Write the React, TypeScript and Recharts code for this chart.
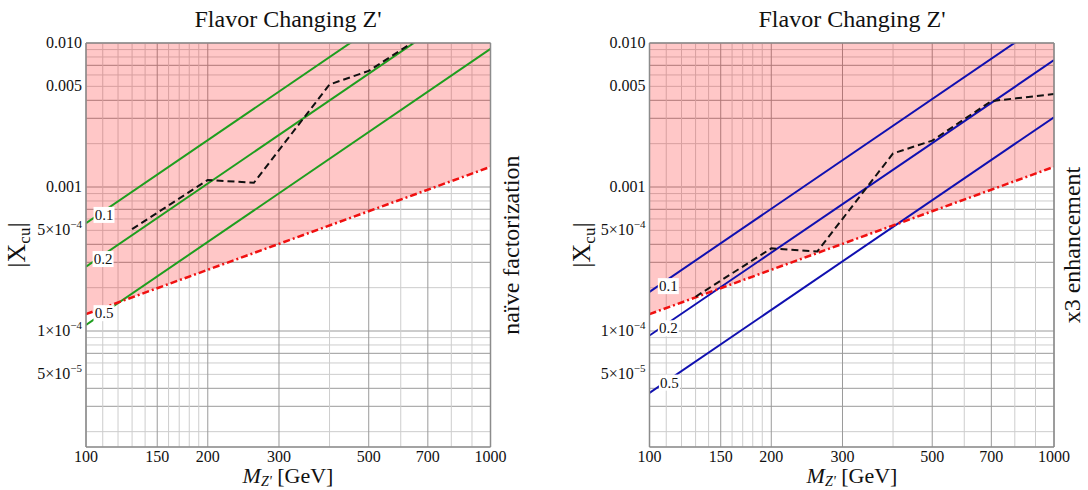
import React from 'react';
import {
  Area,
  ComposedChart,
  CartesianGrid,
  Line,
  ReferenceDot,
  ReferenceLine,
  XAxis,
  YAxis,
} from 'recharts';

// masses where the straight (log-log) bounds are given
const massEnds = [100, 1000];
// red dash-dot bound, same in both panels
const redBound = [1.31e-4, 1.38e-3];

// naive factorization: coupling lines 0.1 / 0.2 / 0.5
const naive01 = [5.6e-4, 0.0462];
const naive02 = [2.8e-4, 0.0231];
const naive05 = [1.1e-4, 9.1e-3];
// x3 enhancement
const enh01 = [1.87e-4, 0.0154];
const enh02 = [9.3e-5, 7.6e-3];
const enh05 = [3.72e-5, 3.05e-3];

// black dashed curve
const dashMass = [130, 200, 260, 400, 500, 700, 1000];
const naiveDash = [5.1e-4, 1.12e-3, 1.07e-3, 5.15e-3, 6.4e-3, 1.18e-2, 1.33e-2];
const enhDash = [1.73e-4, 3.75e-4, 3.57e-4, 1.71e-3, 2.1e-3, 3.95e-3, 4.42e-3];

// contour labels
const couplings = ['0.1', '0.2', '0.5'];
const naiveLabelMass = [110.8, 110.2, 110.8];
const naiveLabelX = [6.4e-4, 3.16e-4, 1.33e-4];
const enhLabelMass = [111.3, 111.3, 112];
const enhLabelX = [2.05e-4, 1.045e-4, 4.38e-5];

// axes
const xTickLabels = [100, 150, 200, 300, 500, 700, 1000];
const xGrid = [100, 110, 120, 130, 140, 150, 160, 170, 180, 190, 200, 300, 400, 500, 600, 700, 800, 900, 1000];
const yTickValues = [0.01, 0.005, 0.001, 5e-4, 1e-4, 5e-5];
const yTickMant = ['0.010', '0.005', '0.001', '5', '1', '5'];
const yTickExp = ['', '', '', '−4', '−4', '−5'];
const yGrid = [
  2e-5, 3e-5, 4e-5, 5e-5, 6e-5, 7e-5, 8e-5, 9e-5,
  1e-4, 2e-4, 3e-4, 4e-4, 5e-4, 6e-4, 7e-4, 8e-4, 9e-4,
  1e-3, 2e-3, 3e-3, 4e-3, 5e-3, 6e-3, 7e-3, 8e-3, 9e-3, 1e-2,
];
const yMin = 1.565e-5;
const yMax = 0.01;

const FONT = '"Liberation Serif", "Times New Roman", serif';
const FRAME = '#8c8c8c';

const near = (a: number, b: number) => Math.abs(a / b - 1) < 1e-6;

const pairs = (xs: number[], ys: number[]) => xs.map((m, i) => ({ m, v: ys[i] }));

function XTick({ x, y, payload }: any) {
  const v = payload.value;
  if (!xTickLabels.some((t) => near(t, v))) return <g />;
  return (
    <text x={x} y={y + 15} textAnchor="middle" fontSize={16} fontFamily={FONT} fill="#111">
      {v}
    </text>
  );
}

function YTick({ x, y, payload }: any) {
  const i = yTickValues.findIndex((t) => near(t, payload.value));
  if (i < 0) return <g />;
  return (
    <text x={x} y={y + 5} textAnchor="end" fontSize={16} fontFamily={FONT} fill="#111">
      {yTickExp[i] ? (
        <>
          <tspan>{yTickMant[i]}×10</tspan>
          <tspan fontSize={11} dy={-7}>{yTickExp[i]}</tspan>
        </>
      ) : (
        yTickMant[i]
      )}
    </text>
  );
}

const vLine = (props: any) => {
  const v = xGrid[props.index];
  const dark = xTickLabels.includes(v);
  return (
    <line key={props.key} x1={props.x1} x2={props.x2} y1={props.y1} y2={props.y2}
      stroke={dark ? '#9a9a9a' : '#cdcdcd'} strokeWidth={1} />
  );
};

const hLine = (props: any) => {
  const v = yGrid[props.index] ?? 0;
  const mant = Math.round(v / Math.pow(10, Math.floor(Math.log10(v) + 1e-9)));
  const dark = [1, 3, 4, 7].includes(mant);
  return (
    <line key={props.key} x1={props.x1} x2={props.x2} y1={props.y1} y2={props.y2}
      stroke={dark ? '#9a9a9a' : '#cdcdcd'} strokeWidth={1} />
  );
};

function ContourLabel({ cx, cy, text }: any) {
  return (
    <g>
      <rect x={cx - 10.5} y={cy - 8} width={21} height={16} fill="#fff" />
      <text x={cx} y={cy + 5} textAnchor="middle" fontSize={15} fontFamily={FONT} fill="#111">
        {text}
      </text>
    </g>
  );
}

function Panel({
  yAxisWidth,
  rightMargin,
  lines,
  color,
  dash,
  labelMass,
  labelX,
}: {
  yAxisWidth: number;
  rightMargin: number;
  lines: number[][];
  color: string;
  dash: number[];
  labelMass: number[];
  labelX: number[];
}) {
  const band = massEnds.map((m, i) => ({ m, band: [redBound[i], yMax] }));
  return (
    <ComposedChart width={544} height={490} margin={{ top: 43, right: rightMargin, bottom: 13, left: 0 }}>
      <CartesianGrid horizontal={hLine} vertical={vLine} />
      <XAxis
        type="number"
        dataKey="m"
        scale="log"
        domain={[100, 1000]}
        allowDataOverflow
        ticks={xGrid}
        interval={0}
        tick={<XTick />}
        tickLine={false}
        tickSize={0}
        tickMargin={0}
        height={30}
        axisLine={{ stroke: FRAME, strokeWidth: 1.5 }}
      />
      <YAxis
        type="number"
        scale="log"
        domain={[yMin, yMax]}
        allowDataOverflow
        ticks={yGrid}
        interval={0}
        tick={<YTick />}
        tickLine={false}
        tickSize={0}
        tickMargin={4}
        width={yAxisWidth}
        axisLine={{ stroke: FRAME, strokeWidth: 1.5 }}
      />
      <Area
        data={band}
        dataKey="band"
        type="linear"
        stroke="none"
        fill="#ff0000"
        fillOpacity={0.22}
        isAnimationActive={false}
      />
      {lines.map((ys, i) => (
        <Line
          key={i}
          data={pairs(massEnds, ys)}
          dataKey="v"
          type="linear"
          stroke={color}
          strokeWidth={2}
          dot={false}
          isAnimationActive={false}
        />
      ))}
      <Line
        data={pairs(massEnds, redBound)}
        dataKey="v"
        type="linear"
        stroke="#f01010"
        strokeWidth={2.5}
        strokeDasharray="7 3 2 3"
        dot={false}
        isAnimationActive={false}
      />
      <Line
        data={pairs(dashMass, dash)}
        dataKey="v"
        type="linear"
        stroke="#111"
        strokeWidth={2}
        strokeDasharray="7 4"
        dot={false}
        isAnimationActive={false}
      />
      <ReferenceLine y={yMax} stroke={FRAME} strokeWidth={1.5} />
      <ReferenceLine x={1000} stroke={FRAME} strokeWidth={1.5} />
      {couplings.map((c, i) => (
        <ReferenceDot
          key={c}
          x={labelMass[i]}
          y={labelX[i]}
          r={0}
          shape={(p: any) => <ContourLabel cx={p.cx} cy={p.cy} text={c} />}
        />
      ))}
    </ComposedChart>
  );
}

function Texts() {
  const t = { fontFamily: FONT, fill: '#111' };
  return (
    <svg width={1088} height={490} style={{ position: 'absolute', left: 0, top: 0, pointerEvents: 'none' }}>
      <text x={288} y={27} textAnchor="middle" fontSize={24} {...t}>Flavor Changing Z'</text>
      <text x={852} y={27} textAnchor="middle" fontSize={24} {...t}>Flavor Changing Z'</text>

      {[288, 852].map((cx) => (
        <text key={cx} x={cx} y={483} textAnchor="middle" fontSize={22} {...t}>
          <tspan fontStyle="italic">M</tspan>
          <tspan fontSize={14} dy={3} fontStyle="italic">Z'</tspan>
          <tspan dy={-3}> [GeV]</tspan>
        </text>
      ))}

      {[[25, 245], [590, 245]].map(([x, y]) => (
        <text key={x} x={x} y={y} transform={`rotate(-90 ${x} ${y})`} textAnchor="middle" fontSize={26} {...t}>
          |X<tspan fontSize={17} dy={5}>cu</tspan><tspan dy={-5}>|</tspan>
        </text>
      ))}

      <text x={519} y={245} transform="rotate(-90 519 245)" textAnchor="middle" fontSize={24} {...t}>
        naïve factorization
      </text>
      <text x={1080} y={245} transform="rotate(-90 1080 245)" textAnchor="middle" fontSize={24} {...t}>
        x3 enhancement
      </text>
    </svg>
  );
}

export default function App() {
  return (
    <div style={{ position: 'absolute', left: 0, top: 0, width: 1088, height: 490, background: '#fff' }}>
      <div style={{ position: 'absolute', left: 0, top: 0 }}>
        <Panel
          yAxisWidth={86}
          rightMargin={53.5}
          lines={[naive01, naive02, naive05]}
          color="#1e9e1e"
          dash={naiveDash}
          labelMass={naiveLabelMass}
          labelX={naiveLabelX}
        />
      </div>
      <div style={{ position: 'absolute', left: 544, top: 0 }}>
        <Panel
          yAxisWidth={105.5}
          rightMargin={34}
          lines={[enh01, enh02, enh05]}
          color="#1010b0"
          dash={enhDash}
          labelMass={enhLabelMass}
          labelX={enhLabelX}
        />
      </div>
      <Texts />
    </div>
  );
}
